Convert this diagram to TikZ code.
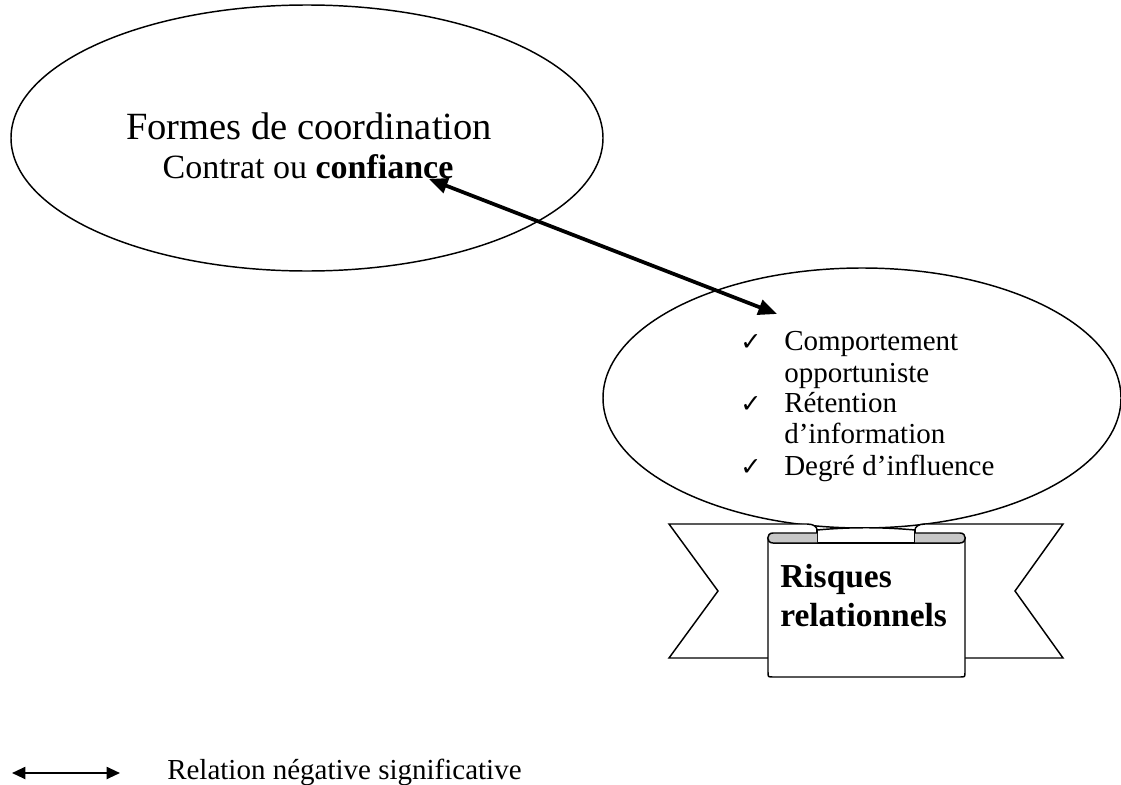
\documentclass[tikz,border=0pt]{standalone}
\usepackage{fontspec}
\setmainfont{Liberation Serif}
\newfontfamily\symfont{DejaVu Sans}
\usetikzlibrary{shapes.geometric,arrows.meta}
\begin{document}
\begin{tikzpicture}[x=0.75pt,y=-0.75pt,
  bubble/.style={draw, ellipse, line width=1.1pt, inner sep=0pt},
  outline/.style={line width=1.1pt, line join=miter},
  txt/.style={inner sep=0pt, anchor=base west},
  ctxt/.style={inner sep=0pt, anchor=base},
  itemfont/.style={font=\fontsize{21.75}{23}\selectfont},
  checkmark/.style={inner sep=0pt, anchor=base west, font=\symfont\fontsize{19}{19}\selectfont},
  relation/.style={line width=2.8pt, {Triangle[length=14pt,width=11.5pt]}-{Triangle[length=14pt,width=11.5pt]}},
  legendarrow/.style={line width=1.5pt, {Triangle[length=10pt,width=9pt]}-{Triangle[length=10pt,width=9pt]}}
]
\useasboundingbox (0,0) rectangle (1121,785);

% upper bubble: coordination forms
\node[bubble, minimum width=444pt, minimum height=199.5pt] (coord) at (307,138) {};
\node[ctxt, font=\fontsize{28.9}{34}\selectfont] (title) at (309,139) {Formes de coordination};
\node[ctxt, font=\fontsize{25.5}{30}\selectfont] (sub) at (308,178) {Contrat ou \textbf{confiance}};

% lower bubble: relational risks
\node[bubble, minimum width=388.5pt, minimum height=195pt] (risk) at (862,398) {};
\node[checkmark] (k1) at (740,350) {✓};
\node[txt, itemfont] (i1) at (784,350) {Comportement};
\node[txt, itemfont] (i2) at (784,382) {opportuniste};
\node[checkmark] (k2) at (740,412) {✓};
\node[txt, itemfont] (i3) at (784,412) {Rétention};
\node[txt, itemfont] (i4) at (784,443) {d’information};
\node[checkmark] (k3) at (740,475) {✓};
\node[txt, itemfont] (i5) at (784,475) {Degré d’influence};

% scroll banner
\draw[outline, fill=white]
  (768,658) -- (669,658) -- (718,591) -- (669,524) -- (807,524)
  .. controls (814,524) and (817,527) .. (817,530)
  .. controls (850,527) and (882,527) .. (915,530)
  .. controls (915,527) and (918,524) .. (925,524)
  -- (1063,524) -- (1015,591) -- (1063,658) -- (965,658);
\draw[outline, fill=white]
  (768,538) -- (768,672) .. controls (768,677) .. (773,677)
  -- (960,677) .. controls (965,677) .. (965,672) -- (965,538);
\draw[outline] (773,543) -- (960,543);
\draw[outline] (817,530) -- (817,543);
\draw[outline] (915,530) -- (915,543);
\draw[outline, fill=black!22]
  (817,533) -- (773,533) .. controls (766,533) and (766,543) .. (773,543) -- (817,543);
\draw[outline, fill=black!22]
  (915,533) -- (960,533) .. controls (967,533) and (967,543) .. (960,543) -- (915,543);
\node[txt, font=\bfseries\fontsize{25.1}{29}\selectfont] (r1) at (780,587) {Risques};
\node[txt, font=\bfseries\fontsize{25.1}{29}\selectfont] (r2) at (780,626) {relationnels};

% relation between the two bubbles
\coordinate (trust) at (429,179);
\coordinate (oppo) at (777,314);
\draw[relation] (trust) -- (oppo);

% legend
\coordinate (lga) at (12,773);
\coordinate (lgb) at (120,773);
\draw[legendarrow] (lga) -- (lgb);
\node[txt, font=\fontsize{21.75}{23}\selectfont] (lgtext) at (167,779) {Relation négative significative};
\end{tikzpicture}
\end{document}
